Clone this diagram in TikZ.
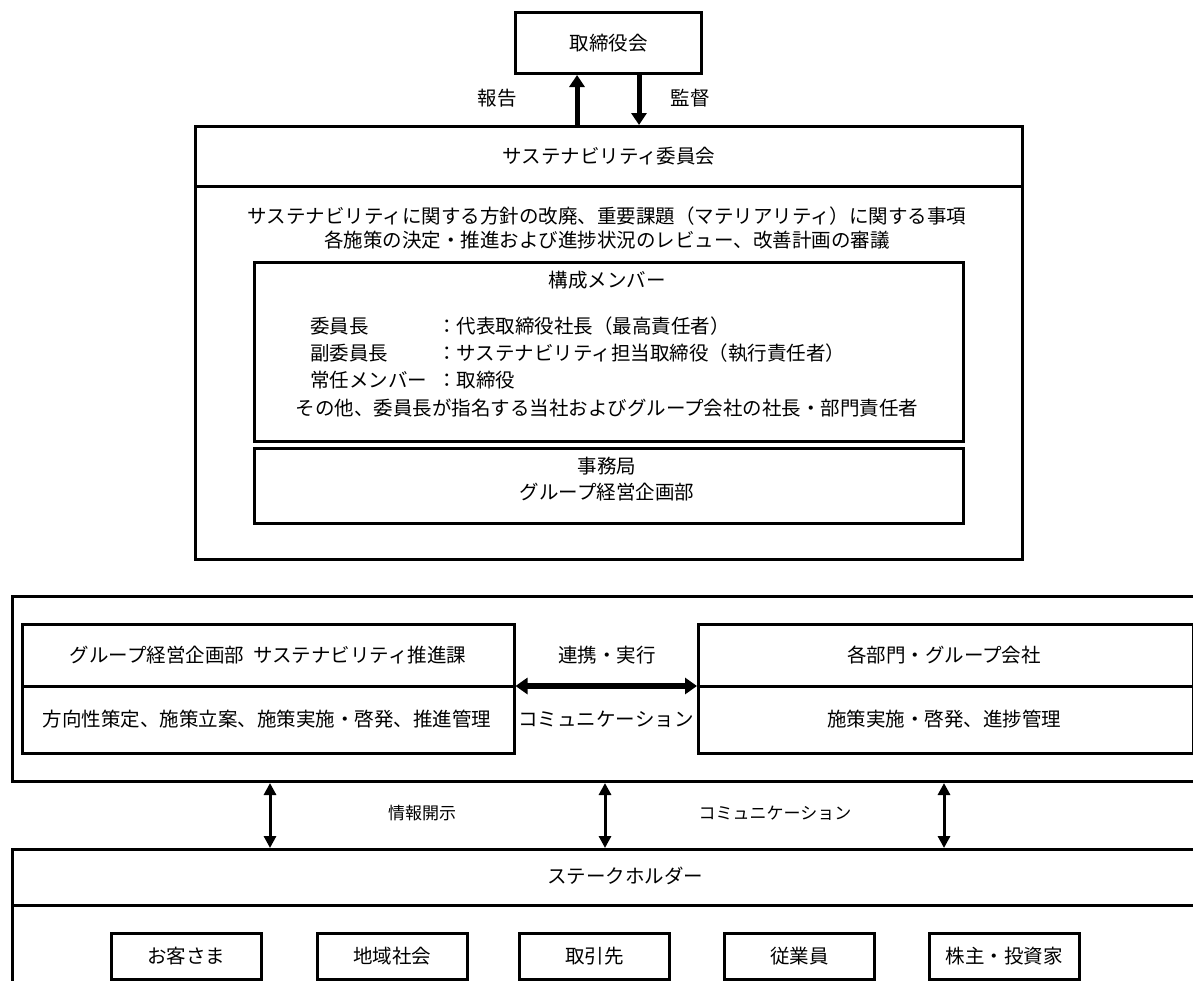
\documentclass[tikz,border=0pt]{standalone}
\usepackage{fontspec}
\setmainfont{Noto Sans CJK JP}
\usetikzlibrary{arrows.meta}
\begin{document}
\begin{tikzpicture}[x=1pt,y=-1pt,
  font=\fontsize{19.5}{24}\selectfont,
  frame/.style={draw, rectangle, line width=3pt, anchor=north west, inner sep=0pt},
  box/.style={draw, rectangle, line width=2.5pt, anchor=north west, inner sep=0pt},
  txt/.style={inner sep=0pt},
  ltxt/.style={inner sep=0pt, anchor=west},
  divider/.style={line width=3pt},
  bigarrow/.style={line width=5pt, -{Triangle[width=15pt,length=12pt]}},
  harrow/.style={line width=6pt, {Triangle[width=16pt,length=12pt]}-{Triangle[width=16pt,length=12pt]}},
  varrow/.style={line width=3pt, {Triangle[width=12pt,length=12pt]}-{Triangle[width=12pt,length=12pt]}},
  small/.style={inner sep=0pt, font=\fontsize{17}{20}\selectfont}
]
\useasboundingbox (0,0) rectangle (1193,980);
\clip (0,0) rectangle (1193,980);

% board
\node[frame, minimum width=186pt, minimum height=61pt] (board) at (514,11) {取締役会};

% committee
\node[frame, minimum width=827pt, minimum height=433pt] (comm) at (194,125) {};
\node[frame, minimum width=827pt, minimum height=60pt] (commh) at (194,125) {サステナビリティ委員会};

\coordinate (upx) at (577,0);
\coordinate (downx) at (639,0);
\draw[bigarrow] (commh.north -| upx) -- (board.south -| upx);
\draw[bigarrow] (board.south -| downx) -- (commh.north -| downx);
\node[txt] (report) at (497,98) {報告};
\node[txt] (audit) at (690,98) {監督};

\node[txt] (scope1) at (607,216) {サステナビリティに関する方針の改廃、重要課題（マテリアリティ）に関する事項};
\node[txt] (scope2) at (607,240) {各施策の決定・推進および進捗状況のレビュー、改善計画の審議};

% members
\node[box, minimum width=709pt, minimum height=179pt] (mem) at (253,261) {};
\node[txt] (memt) at (607,280) {構成メンバー};
\node[ltxt] (r1a) at (310,326) {委員長};
\node[ltxt] (r1b) at (437,326) {：代表取締役社長（最高責任者）};
\node[ltxt] (r2a) at (310,353) {副委員長};
\node[ltxt] (r2b) at (437,353) {：サステナビリティ担当取締役（執行責任者）};
\node[ltxt] (r3a) at (310,380) {常任メンバー};
\node[ltxt] (r3b) at (437,380) {：取締役};
\node[txt] (others) at (607,408) {その他、委員長が指名する当社およびグループ会社の社長・部門責任者};

% secretariat
\node[box, minimum width=709pt, minimum height=75pt] (sec) at (253,447) {};
\node[txt] (sec1) at (607,466) {事務局};
\node[txt] (sec2) at (607,492) {グループ経営企画部};

% execution frame
\node[frame, minimum width=1250pt, minimum height=185pt] (exec) at (11,595) {};
\node[box, minimum width=492pt, minimum height=129pt] (promo) at (21,623) {};
\node[box, minimum width=495pt, minimum height=129pt] (dept) at (697,623) {};
\coordinate (mid) at (0,686);
\draw[divider] (promo.west |- mid) -- (promo.east |- mid);
\draw[divider] (dept.west |- mid) -- (dept.east |- mid);
\node[txt] (promoh) at (268,655) {グループ経営企画部\hspace{0.45em}サステナビリティ推進課};
\node[txt] (promob) at (267,719) {方向性策定、施策立案、施策実施・啓発、推進管理};
\node[txt] (depth) at (944,655) {各部門・グループ会社};
\node[txt] (deptb) at (944,719) {施策実施・啓発、進捗管理};
\draw[harrow] (promo.east |- mid) -- (dept.west |- mid);
\node[txt] (coop) at (607,655) {連携・実行};
\node[txt] (comm1) at (606,719) {コミュニケーション};

% stakeholders
\node[frame, minimum width=1250pt, minimum height=200pt] (stake) at (11,848) {};
\draw[divider] (11,905) -- (1200,905);
\node[txt] (stakeh) at (625,876) {ステークホルダー};

\coordinate (a1) at (270,0);
\coordinate (a2) at (605,0);
\coordinate (a3) at (944,0);
\draw[varrow] (exec.south -| a1) -- (stake.north -| a1);
\draw[varrow] (exec.south -| a2) -- (stake.north -| a2);
\draw[varrow] (exec.south -| a3) -- (stake.north -| a3);
\node[small] (disc) at (422,813) {情報開示};
\node[small] (comm2) at (775,813) {コミュニケーション};

\node[box, minimum width=150pt, minimum height=46pt] (s1) at (110,932) {お客さま};
\node[box, minimum width=150pt, minimum height=46pt] (s2) at (316,932) {地域社会};
\node[box, minimum width=150pt, minimum height=46pt] (s3) at (518,932) {取引先};
\node[box, minimum width=150pt, minimum height=46pt] (s4) at (723,932) {従業員};
\node[box, minimum width=150pt, minimum height=46pt] (s5) at (928,932) {株主・投資家};
\end{tikzpicture}
\end{document}
